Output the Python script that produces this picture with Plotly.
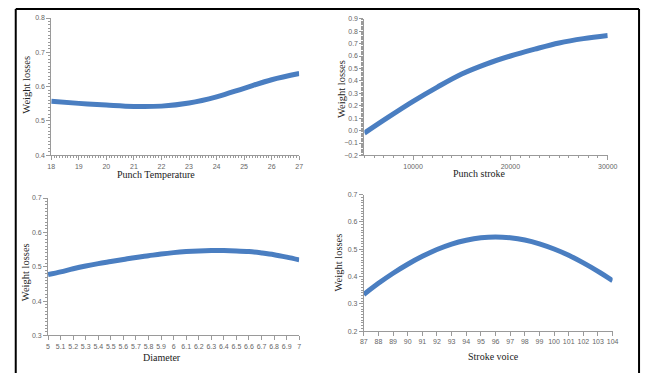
import plotly.graph_objects as go

W, H = 651, 376

# ---- data ----
temp_x = [18, 19, 20, 21, 22, 23, 24, 25, 26, 27]
temp_y = [0.557, 0.551, 0.546, 0.542, 0.543, 0.552, 0.570, 0.595, 0.620, 0.638]

stroke_x = [5000, 7500, 10000, 12500, 15000, 17500, 20000, 22500, 25000, 27500, 30000]
stroke_y = [-0.02, 0.11, 0.235, 0.35, 0.455, 0.535, 0.60, 0.655, 0.705, 0.74, 0.765]

diam_x = [5.0, 5.1, 5.2, 5.3, 5.4, 5.5, 5.6, 5.7, 5.8, 5.9, 6.0,
          6.1, 6.2, 6.3, 6.4, 6.5, 6.6, 6.7, 6.8, 6.9, 7.0]
diam_y = [0.477, 0.485, 0.494, 0.502, 0.509, 0.515, 0.521, 0.527, 0.532, 0.537, 0.541,
          0.544, 0.546, 0.547, 0.547, 0.546, 0.544, 0.540, 0.535, 0.528, 0.520]

voice_x = [87, 88, 89, 90, 91, 92, 93, 94, 95, 96, 97, 98, 99, 100, 101, 102, 103, 104]
voice_y = [0.334, 0.375, 0.412, 0.445, 0.474, 0.499, 0.519, 0.533, 0.542, 0.545,
           0.542, 0.534, 0.520, 0.501, 0.478, 0.450, 0.419, 0.385]

x_titles = ["Punch Temperature", "Punch stroke", "Diameter", "Stroke voice"]
y_title = "Weight losses"

LINE_COLOR = "#4a7ec1"
AXIS_COLOR = "#9a9a9a"
TICK_FONT = dict(family="Liberation Sans, Arial, sans-serif", size=7, color="#666666")
TITLE_FONT = dict(family="Liberation Serif, Times New Roman, serif", size=10, color="#222222")
YTITLE_FONT = dict(family="Liberation Serif, Times New Roman, serif", size=10.5, color="#222222")


def px_x(x0, x1):
    return [x0 / W, x1 / W]


def px_y(top, bottom):
    return [1 - bottom / H, 1 - top / H]


fig = go.Figure()

series = [(temp_x, temp_y), (stroke_x, stroke_y), (diam_x, diam_y), (voice_x, voice_y)]
for i, (xs, ys) in enumerate(series):
    n = "" if i == 0 else str(i + 1)
    fig.add_trace(go.Scatter(x=xs, y=ys, mode="lines", xaxis="x" + n, yaxis="y" + n,
                             line=dict(color=LINE_COLOR, width=5, shape="spline", smoothing=1.0),
                             showlegend=False, hoverinfo="skip"))


def xax(domain, rng, dtick, minor_dtick, anchor, tick0=None):
    d = dict(domain=domain, range=rng, dtick=dtick, anchor=anchor, tickformat="d" if dtick >= 1 else None,
             showgrid=False, zeroline=False, showline=True, linecolor=AXIS_COLOR, linewidth=1,
             ticks="outside", ticklen=4, tickcolor=AXIS_COLOR, tickfont=TICK_FONT)
    if tick0 is not None:
        d["tick0"] = tick0
    if minor_dtick:
        d["minor"] = dict(dtick=minor_dtick, ticks="outside", ticklen=2, tickcolor=AXIS_COLOR, showgrid=False)
    return d


def yax(domain, rng, anchor):
    return dict(domain=domain, range=rng, dtick=0.1, anchor=anchor, tickformat=".1f",
                showgrid=False, zeroline=False, showline=True, linecolor=AXIS_COLOR, linewidth=1,
                ticks="outside", ticklen=4, tickcolor=AXIS_COLOR, tickfont=TICK_FONT,
                minor=dict(dtick=0.01, ticks="outside", ticklen=2, tickcolor=AXIS_COLOR, showgrid=False))


fig.update_layout(
    width=W, height=H,
    margin=dict(l=0, r=0, t=0, b=0),
    paper_bgcolor="white", plot_bgcolor="white",
    xaxis=xax(px_x(48.3, 301.7), [18, 27], 1, 0.1, "y"),
    yaxis=yax(px_y(14.3, 154), [0.4, 0.8], "x"),
    xaxis2=xax(px_x(368.3, 617), [5000, 30000], 10000, 1000, "y2", tick0=0),
    yaxis2=yax(px_y(15, 154.3), [-0.2, 0.9], "x2"),
    xaxis3=xax(px_x(45, 301.7), [5, 7], 0.1, None, "y3"),
    yaxis3=yax(px_y(197.7, 337.7), [0.3, 0.7], "x3"),
    xaxis4=xax(px_x(367.7, 622), [87, 104], 1, None, "y4"),
    yaxis4=yax(px_y(194.3, 333.3), [0.2, 0.7], "x4"),
)

# axis titles as annotations
xt_pos = [(155.7, 173.7), (485.7, 172.5), (161.7, 360), (500, 359)]
yt_pos = [(22.7, 82), (345, 87), (22.7, 273), (341.7, 263)]
for t, (x, y) in zip(x_titles, xt_pos):
    fig.add_annotation(text=t, x=x / W, y=1 - y / H, xref="paper", yref="paper",
                       showarrow=False, xanchor="center", yanchor="middle", font=TITLE_FONT)
for (x, y) in yt_pos:
    fig.add_annotation(text=y_title, x=x / W, y=1 - y / H, xref="paper", yref="paper",
                       showarrow=False, xanchor="center", yanchor="middle", textangle=-90,
                       font=YTITLE_FONT)

# black frame (left, top, right)
for x0, y0, x1, y1 in [(12, 5, 12, 376), (12, 5, 649, 5), (649, 5, 649, 376)]:
    fig.add_shape(type="line", xref="paper", yref="paper",
                  x0=x0 / W, x1=x1 / W, y0=1 - y0 / H, y1=1 - y1 / H,
                  line=dict(color="black", width=2))

post = (
    "document.documentElement.style.margin='0';"
    "document.documentElement.style.padding='0';"
    "document.body.style.margin='0';document.body.style.padding='0';"
    "document.body.style.overflow='hidden';"
    "var gd=document.getElementById('{plot_id}');"
    "gd.style.position='fixed';gd.style.top='0px';gd.style.left='0px';"
)
fig.write_html("out.html", config={"displayModeBar": False}, post_script=post)
